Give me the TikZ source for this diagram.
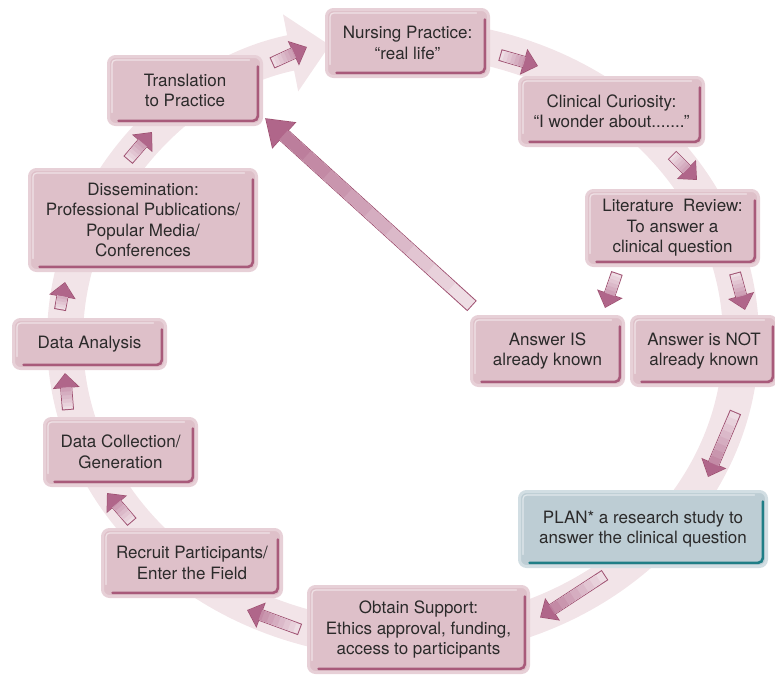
\documentclass[tikz,border=0pt]{standalone}
\usepackage{fontspec}
\setmainfont{TeX Gyre Heros}
\usepackage{tikz}
\usetikzlibrary{arrows.meta, positioning, calc}
\definecolor{boxfill}{HTML}{DEC0C9}
\definecolor{boxrim}{HTML}{E7D0D7}
\definecolor{boxedge}{HTML}{A85A7A}
\definecolor{planfill}{HTML}{BDCDD4}
\definecolor{planrim}{HTML}{D2DEE3}
\definecolor{planedge}{HTML}{1F7E86}
\definecolor{ringpink}{HTML}{F2E4E8}
\definecolor{arrowline}{HTML}{A05373}
\definecolor{arrowlight}{HTML}{EEDDE4}
\definecolor{arrowtip}{HTML}{B0668A}
\definecolor{txtgray}{HTML}{2B2A2A}

\tikzset{
  boxshade/.style={path picture={
      \draw[#1, line width=2.6pt, line cap=round, rounded corners=5pt]
        ([shift={(10pt,3.6pt)}]path picture bounding box.south west) --
        ([shift={(-3.6pt,3.6pt)}]path picture bounding box.south east) --
        ([shift={(-3.6pt,-10pt)}]path picture bounding box.north east);
      \draw[white, opacity=.55, line width=1.2pt, line cap=round, rounded corners=4pt]
        ([shift={(3.4pt,12pt)}]path picture bounding box.south west) --
        ([shift={(3.4pt,-3.4pt)}]path picture bounding box.north west) --
        ([shift={(-12pt,-3.4pt)}]path picture bounding box.north east);
    }},
  stepbox/.style={draw=boxrim, fill=boxfill, line width=3pt, rounded corners=7pt,
    inner sep=0pt, align=center, text=txtgray,
    font=\fontsize{17}{20.5}\selectfont, boxshade=boxedge},
  planbox/.style={stepbox, draw=planrim, fill=planfill, boxshade=planedge},
  ringline/.style={draw=ringpink, line width=36pt, -{Triangle[width=76pt,length=40pt]}},
  blkout/.style={draw=arrowline, line width=12pt, -{Triangle[width=26pt,length=15pt]}},
  blkin/.style={line width=10pt, shorten >=1.5pt,
    -{Triangle[width=21.6pt,length=12.5pt,color=arrowtip]}},
  bigout/.style={draw=arrowline, line width=14pt, -{Triangle[width=34pt,length=26pt]}},
  bigin/.style={line width=12pt, shorten >=1.8pt,
    -{Triangle[width=30.3pt,length=23.2pt,color=arrowtip]}},
}
% outlined block arrow, shaded from the tail (light) to the head (dark)
\newcommand{\pinkarrow}[3][blk]{%
  \draw[#1out] #2 -- #3;
  \draw[#1in, shorten <=1pt, draw=arrowlight] #2 -- #3;
  \foreach \t/\c in {0.1/10,0.2/20,0.3/30,0.4/40,0.5/50,0.6/60,0.7/70,0.8/80}{
    \draw[#1in, draw=arrowtip!\c!arrowlight] ($#2!\t!#3$) -- #3;
  }
}

\begin{document}
\begin{tikzpicture}[x=1pt, y=-1pt]
  \useasboundingbox (0,0) rectangle (775,675);

  % background ring of the cycle
  \draw[ringline] (403,38) arc[start angle=90, end angle=-257.5, x radius=338pt, y radius=301pt];

  % steps of the cycle
  \node[stepbox, minimum width=162pt, minimum height=67pt] (nurse) at (407.5,43) {Nursing Practice:\\“real life”};
  \node[stepbox, minimum width=184pt, minimum height=68pt] (curio) at (611.5,111.5) {Clinical Curiosity:\\“I wonder about.......”};
  \node[stepbox, minimum width=172pt, minimum height=75pt] (litrev) at (672.5,228) {Literature\ \ Review:\\To answer a\\clinical question};
  \node[stepbox, minimum width=152pt, minimum height=69pt] (ansis) at (547.5,351) {Answer IS\\already known};
  \node[stepbox, minimum width=145pt, minimum height=69pt] (ansnot) at (704,351) {Answer is NOT\\already known};
  \node[planbox, minimum width=247pt, minimum height=75pt] (plan) at (643,529) {PLAN* a research study to\\answer the clinical question};
  \node[stepbox, minimum width=220pt, minimum height=86pt] (obtain) at (418.5,629.5) {Obtain Support:\\Ethics approval, funding,\\access to participants};
  \node[stepbox, minimum width=179pt, minimum height=67pt] (recruit) at (192,563) {Recruit Participants/\\Enter the Field};
  \node[stepbox, minimum width=152pt, minimum height=67pt] (datacol) at (120.5,452) {Data Collection/\\Generation};
  \node[stepbox, minimum width=152pt, minimum height=49pt] (dataan) at (89.5,344) {Data Analysis};
  \node[stepbox, minimum width=227pt, minimum height=101pt] (dissem) at (143,220) {Dissemination:\\Professional Publications/\\Popular Media/\\Conferences};
  \node[stepbox, minimum width=153pt, minimum height=68pt] (transl) at (185,90.5) {Translation\\to Practice};

  % block arrows between the steps
  \pinkarrow{([shift={(10,12)}]nurse.east)}{([shift={(20,-10)}]curio.north west)}
  \pinkarrow{([shift={(-33,8)}]curio.south east)}{([shift={(24.5,-9)}]litrev.north)}
  \pinkarrow{([shift={(32,6)}]litrev.south west)}{([shift={(-20,-7)}]ansis.north east)}
  \pinkarrow{([shift={(-25,6)}]litrev.south east)}{([shift={(41,-5)}]ansnot.north)}
  \pinkarrow{([shift={(31.5,25)}]ansnot.south)}{([shift={(65,-13)}]plan.north)}
  \pinkarrow{([shift={(-38,7)}]plan.south)}{([shift={(10,-12)}]obtain.east)}
  \pinkarrow{([shift={(-7,0)}]obtain.west)}{([shift={(-36,12)}]recruit.south east)}
  \pinkarrow{([shift={(31,-6)}]recruit.north west)}{([shift={(64,6)}]datacol.south west)}
  \pinkarrow{([shift={(25,-7)}]datacol.north west)}{([shift={(53,3)}]dataan.south west)}
  \pinkarrow{([shift={(48,-8)}]dataan.north west)}{([shift={(37,10)}]dissem.south west)}
  \pinkarrow{([shift={(-15,-8)}]dissem.north)}{([shift={(-33,6)}]transl.south)}
  \pinkarrow{([shift={(9,-27.5)}]transl.east)}{([shift={(-18,4)}]nurse.west)}

  % shortcut when the answer is known
  \pinkarrow[big]{([shift={(2,-9)}]ansis.north west)}{([shift={(2,-8)}]transl.south east)}
\end{tikzpicture}
\end{document}
